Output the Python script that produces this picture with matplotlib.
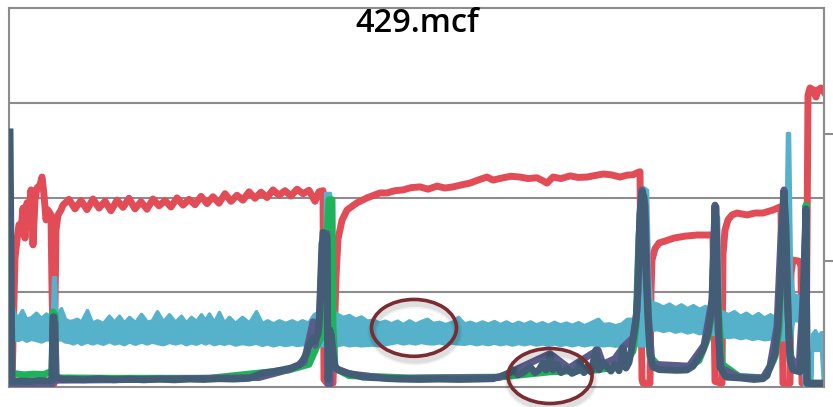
import numpy as np
import matplotlib
matplotlib.use("Agg")
import matplotlib.pyplot as plt
from matplotlib.patches import Ellipse

title = "429.mcf"

# red series
red_x = [0, 3, 5, 6, 8, 10, 12, 14, 16, 18, 20, 22, 24, 26, 28, 31, 33, 35, 37, 39, 42, 43, 45,
         47, 49, 52, 54, 60, 66, 72, 78, 84, 90, 96, 102, 108, 114, 120, 126, 132, 138, 144, 150,
         156, 162, 168, 174, 180, 186, 192, 198, 204, 210, 216, 222, 228, 234, 240, 246, 252, 258,
         264, 270, 276, 282, 288, 294, 300, 306, 310, 314, 315, 318, 324, 326, 327, 329, 333, 338,
         348, 358, 371, 378, 386, 394, 402, 411, 419, 428, 436, 444, 452, 461, 469, 478, 484, 494,
         502, 511, 519, 528, 534, 538, 544, 552, 561, 569, 578, 586, 594, 602, 611, 618, 624, 628,
         631, 633, 634, 641, 642, 643, 646, 650, 656, 665, 676, 688, 698, 704, 706, 712, 713, 714,
         716, 719, 723, 728, 738, 746, 754, 764, 771, 772, 774, 781, 782, 784, 790, 792, 793, 797,
         798, 799, 801, 804, 807, 809, 812, 815]
red_y = [1.0, 1.0, 23.0, 34.0, 38.8, 42.8, 41.4, 47.2, 39.3, 48.6, 45.4, 52.0, 37.5, 49.4, 52.5,
         53.3, 55.4, 50.7, 44.1, 46.7, 45.4, 26.0, 0.8,
         41.4, 45.4, 46.7, 48.0, 49.5, 47.0, 49.2, 46.8, 49.6, 47.2, 49.0, 46.5, 49.3, 47.4, 49.8,
         47.0, 48.9, 46.9, 49.6, 47.8, 49.2, 47.5, 49.9, 48.0, 49.5, 48.1, 50.3, 48.4, 50.2, 48.5,
         51.0, 49.0, 50.6, 49.3, 51.5, 49.8, 51.4, 50.0, 52.0, 50.6, 51.8, 50.4, 52.2, 51.0, 51.9,
         49.0, 51.5, 51.8, 2.0, 1.0, 1.0, 20.0, 29.0, 39.0, 44.0, 46.7,
         48.6, 49.9, 51.2, 51.2, 51.8, 52.0, 52.6, 52.8, 52.2, 53.0, 52.5, 52.8, 53.3, 53.8, 54.6,
         55.4, 54.6, 55.2, 55.6, 55.4, 55.0, 55.2, 54.4, 53.8, 55.4, 55.0, 55.7, 55.3, 55.4, 55.8,
         56.2, 56.0, 55.4, 55.9, 56.0, 56.5, 56.8, 2.0, 1.0, 1.0, 25.0, 33.5, 36.5, 38.0, 38.5,
         39.3, 39.8, 40.1, 40.1, 40.1, 1.5, 1.0, 1.0, 35.0, 41.4, 44.1, 45.4, 45.9, 45.4, 45.9,
         45.9, 46.7, 47.5, 47.0, 1.0, 1.0, 30.0, 33.5, 33.2, 32.0, 1.0, 1.0,
         40.0, 77.0, 78.9, 78.4, 76.5, 78.4, 78.9, 77.8]

# cyan series (upper / lower edge of the noisy trace)
cyan_x = [3, 5, 9, 13, 17, 22, 27, 32, 37, 41, 43, 44, 46, 47, 52, 56, 60, 64, 68, 72, 78, 83,
          88, 94, 100, 105, 110, 115, 120, 126, 132, 138, 143, 148, 154, 160, 166, 172, 177, 182,
          187, 192, 196, 200, 205, 210, 215, 220, 226, 233, 240, 247, 253, 258, 264, 270, 276,
          283, 288, 293, 299, 305, 310, 313, 315, 316, 321, 323, 325, 328, 334, 340, 346, 352,
          358, 364, 370, 376, 382, 388, 394, 400, 406, 412, 418, 424, 430, 436, 443, 449, 455,
          461, 467, 473, 479, 485, 491, 497, 503, 509, 515, 521, 527, 533, 539, 545, 551, 557,
          563, 569, 575, 581, 589, 594, 600, 606, 612, 618, 623, 627, 630, 632, 634, 638, 640,
          642, 648, 654, 660, 666, 672, 678, 684, 690, 696, 700, 703, 706, 709, 711, 713, 719,
          725, 731, 737, 743, 749, 755, 761, 767, 772, 776, 778, 780, 782, 784, 790, 793, 795,
          797, 802, 803, 806, 809, 812, 814, 815]
cyan_hi = [23.0, 19.5, 18.4, 20.3, 18.0, 18.4, 19.6, 18.2, 19.4, 18.6, 19.0, 29.0, 29.0, 19.0,
           20.8, 18.0, 17.4, 17.6, 18.0, 17.2, 20.3, 17.0, 17.6, 16.9, 18.8, 17.2, 18.8, 17.0,
           18.5, 17.1, 19.3, 17.2, 17.6, 20.0, 17.3, 19.2, 17.2, 18.8, 17.0, 18.5, 17.4, 19.2,
           17.6, 19.4, 17.1, 19.8, 17.0, 18.5, 16.9, 18.5, 17.0, 20.0, 16.8, 17.6, 16.8, 17.6,
           16.9, 17.6, 16.9, 17.6, 17.0, 19.3, 19.8, 17.5, 18.0, 51.2, 51.2, 31.0, 20.0, 19.3,
           18.5, 19.0, 18.0, 18.6, 17.5, 17.8, 17.0, 17.5, 16.8, 17.5, 16.6, 17.6, 16.7, 17.4,
           18.0, 16.9, 17.2, 16.6, 17.2, 18.5, 16.8, 17.2, 16.6, 17.3, 16.7, 17.4, 16.6, 17.3,
           16.5, 17.2, 16.6, 17.3, 16.5, 17.1, 16.4, 17.2, 16.5, 17.0, 16.4, 17.1, 16.3, 17.0,
           18.0, 16.6, 16.8, 16.3, 16.7, 18.0, 18.0, 16.5, 16.5, 45.0, 52.8, 52.0, 30.0,
           22.5, 22.0, 21.2, 22.0, 21.0, 21.8, 20.8, 21.6, 20.6, 21.4, 20.5, 21.0, 45.0, 45.0,
           20.0, 20.0, 19.2, 20.0, 18.8, 19.6, 18.5, 19.5, 18.3, 19.2, 18.2, 18.8, 30.0, 67.0,
           67.0, 30.0, 24.5, 24.0, 23.0, 2.0, 2.0, 2.0, 14.0, 15.0, 13.5, 14.5, 14.0, 1.0]
cyan_lo = [12.9, 12.6, 12.4, 12.9, 12.2, 12.7, 12.4, 12.0, 12.6, 12.5, 12.7, 12.7, 13.0, 12.5,
           12.6, 12.0, 11.9, 11.5, 12.0, 11.4, 12.0, 11.5, 11.9, 11.4, 12.1, 11.5, 11.8, 11.3,
           12.0, 11.4, 12.0, 11.5, 12.0, 11.6, 11.3, 11.9, 11.5, 11.9, 11.3, 11.8, 11.4, 12.0,
           11.5, 11.9, 11.3, 11.7, 11.4, 11.8, 11.2, 11.6, 11.3, 11.7, 11.1, 11.5, 11.0, 11.4,
           11.1, 11.4, 11.1, 11.3, 11.0, 11.4, 11.2, 11.0, 11.0, 11.0, 11.0, 11.0, 11.0, 11.0,
           11.4, 11.0, 11.2, 11.0, 11.1, 11.2, 11.0, 11.3, 11.6, 11.9, 11.5, 11.8, 11.5, 11.9,
           11.6, 11.5, 11.8, 11.4, 11.7, 11.5, 11.4, 11.7, 11.3, 11.6, 11.3, 11.7, 11.3, 11.6,
           11.2, 11.6, 11.3, 11.6, 11.2, 11.5, 11.1, 11.5, 11.1, 11.4, 11.0, 11.4, 11.0, 11.3,
           11.2, 11.0, 11.2, 10.9, 11.1, 11.0, 11.2, 11.0, 11.0, 11.0, 11.0, 11.0, 11.0,
           15.0, 15.3, 14.8, 15.2, 14.6, 15.0, 14.4, 14.8, 14.2, 14.5, 14.0, 14.0, 14.0, 14.0,
           14.0, 13.5, 13.2, 13.4, 12.9, 13.2, 12.7, 13.0, 12.6, 12.8, 12.5, 12.6, 12.6, 12.6,
           12.6, 12.6, 17.7, 17.5, 17.0, 0.5, 0.5, 0.5, 9.8, 9.8, 9.8, 9.8, 0.5, 0.5]

# green series
green_x = [3, 4, 15, 25, 35, 43, 44, 46, 47, 50, 100, 200, 280, 300, 310, 314, 318, 320, 323,
           324, 326, 340, 400, 490, 541, 587, 614, 624, 627, 630, 633, 636, 639, 641, 650, 680,
           690, 699, 703, 706, 708, 710, 713, 730, 754, 761, 766, 770, 773, 775, 778, 780, 783,
           792, 794, 796, 797, 798, 815]
green_y = [3.5, 3.6, 3.2, 3.4, 3.3, 4.2, 19.8, 19.0, 3.0, 2.4, 2.3, 2.3, 4.5, 6.0, 12.0, 14.0,
           40.0, 49.4, 49.4, 16.0, 5.0, 3.0, 2.4, 2.6, 4.0, 4.5, 5.5, 9.5, 16.0, 40.0, 50.0, 35.0,
           22.0, 8.0, 5.5, 5.3, 7.0, 13.0, 20.0, 46.0, 30.0, 18.0, 6.0, 2.8, 2.4, 5.0, 8.0, 15.0,
           35.0, 49.0, 30.0, 12.0, 6.0, 5.0, 12.0, 32.0, 48.0, 1.0, 1.0]

# purple series
purple_x = [0, 3, 43, 44, 46, 47, 100, 250, 280, 295, 304, 306, 310, 313, 318, 319, 321, 322,
            326, 340, 380, 490, 541, 560, 589, 594, 606, 614, 624, 628, 631, 633, 636, 639, 643,
            680, 695, 703, 706, 709, 712, 730, 754, 761, 768, 772, 775, 778, 781, 790, 795, 797,
            798, 815]
purple_y = [0.6, 0.6, 0.6, 17.0, 17.0, 1.8, 1.9, 2.5, 4.6, 6.5, 17.2, 11.0, 16.0, 38.0, 40.5,
            0.8, 0.8, 14.0, 5.0, 3.5, 2.2, 2.5, 8.8, 5.0, 9.8, 6.0, 7.5, 10.5, 13.0, 20.0, 46.0,
            52.0, 48.0, 20.0, 6.0, 5.5, 11.0, 23.0, 48.0, 15.0, 5.0, 2.6, 2.4, 5.5, 16.0, 40.0,
            52.0, 25.0, 8.0, 5.0, 28.0, 46.0, 1.0, 1.0]

# dark slate series
dark_x = [1, 3, 10, 20, 30, 40, 43, 44, 45, 46, 48, 55, 60, 75, 90, 105, 120, 135, 150, 165,
          180, 195, 210, 225, 240, 253, 263, 273, 282, 290, 294, 298, 301, 304, 306, 309, 311,
          313, 314, 317, 318, 319, 320, 321, 322, 324, 326, 329, 338, 354, 371, 390, 410, 430,
          450, 470, 484, 494, 499, 504, 509, 514, 521, 526, 530, 534, 537, 541, 544, 548, 552,
          558, 563, 568, 571, 575, 578, 582, 587, 590, 594, 598, 602, 606, 610, 614, 617, 620,
          624, 627, 629, 631, 633, 635, 637, 639, 641, 644, 650, 658, 668, 678, 684, 688, 694,
          699, 703, 706, 707, 709, 711, 716, 718, 731, 745, 754, 758, 761, 766, 769, 772, 774,
          775, 777, 779, 781, 784, 791, 793, 795, 797, 798, 815]
dark_y = [67.3, 1.5, 1.6, 1.5, 1.7, 1.6, 1.8, 18.5, 18.5, 3.5, 2.4, 2.0, 2.1, 1.9, 2.2, 1.9,
          2.1, 1.9, 2.1, 1.9, 2.1, 2.0, 2.2, 2.1, 2.3, 3.6, 4.0, 4.5, 5.0, 5.8, 7.1, 9.0, 11.5,
          13.0, 12.0, 14.0, 20.3, 35.0, 40.8, 40.0, 38.8, 2.0, 5.0, 15.0, 13.5, 7.9, 5.5, 4.5,
          3.7, 2.6, 2.4, 2.1, 2.0, 2.1, 2.0, 2.1, 2.2, 3.0, 3.5, 4.5, 3.2, 3.8, 5.3, 3.8, 4.5,
          6.3, 4.5, 8.4, 4.5, 6.0, 3.8, 4.8, 3.6, 4.2, 6.3, 3.8, 5.3, 4.0, 9.8, 4.5, 6.5, 5.3,
          4.2, 6.0, 4.3, 10.3, 5.0, 6.5, 12.4, 17.7, 25.0, 45.0, 51.5, 50.0, 30.0, 17.7, 9.0,
          5.3, 4.6, 4.5, 4.4, 4.5, 5.5, 7.1, 9.8, 14.2, 21.1, 47.0, 47.5, 20.0, 5.3, 3.0, 2.6,
          2.4, 2.0, 2.2, 3.0, 5.3, 8.7, 15.8, 30.0, 45.0, 51.2, 42.0, 20.0, 7.1, 4.5, 4.0, 11.4,
          30.0, 47.0, 1.0, 0.8]

# circled regions: centre x, centre y, width, height
circles = [(405, 15.6, 85, 15.0), (541, 2.9, 84, 14.5)]

grid_col = "#8c8c8c"

fig = plt.figure(figsize=(8.33, 4.07), dpi=100)
ax = fig.add_axes([9 / 833, 20 / 407, 815 / 833, 379 / 407])

lw = 5
ax.plot(red_x, red_y, color="#e14c56", lw=lw, solid_joinstyle="round", zorder=3)
ax.fill_between(cyan_x, cyan_lo, cyan_hi, color="#56b2cb", lw=2.5, edgecolor="#56b2cb",
                joinstyle="round", zorder=4)
ax.plot(green_x, green_y, color="#1eb25a", lw=lw, solid_joinstyle="round", zorder=5)
ax.plot(purple_x, purple_y, color="#5c5c8c", lw=lw, solid_joinstyle="round", zorder=6)
ax.plot(dark_x, dark_y, color="#425d75", lw=lw, solid_joinstyle="round", zorder=7)

for cx, cy, w, h in circles:
    # soft shadow under each ring
    for k, a in [(7, 0.05), (4.5, 0.08)]:
        ax.add_patch(Ellipse((cx + 1, cy - 1.1), w, h, fill=False, lw=k, edgecolor="black",
                             alpha=a, zorder=8, clip_on=False))
    ax.add_patch(Ellipse((cx, cy), w, h, fill=False, lw=2.6, edgecolor="#7a2c30",
                         zorder=9, clip_on=False))

ax.set_xlim(0, 815)
ax.set_ylim(0, 100)
ax.set_yticks([25, 50, 75])
ax.set_xticks([])
ax.grid(axis="y", color=grid_col, lw=1.5)
ax.set_axisbelow(True)
ax.tick_params(axis="y", length=0, labelleft=False)
for s in ax.spines.values():
    s.set_color(grid_col)
    s.set_linewidth(1.5)

ax2 = ax.twinx()
ax2.set_ylim(0, 3)
ax2.set_yticks([1, 2])
ax2.tick_params(axis="y", direction="out", length=6.5, width=1.5, color=grid_col, labelright=False)
ax2.spines["right"].set_color(grid_col)
ax2.spines["right"].set_linewidth(1.5)
for s in ["left", "top", "bottom"]:
    ax2.spines[s].set_visible(False)

fig.text(417 / 833, 1 - 24 / 407, title, ha="center", va="center", fontsize=23.5,
         family="Open Sans", weight="semibold")

fig.savefig("out.png", dpi=100)
